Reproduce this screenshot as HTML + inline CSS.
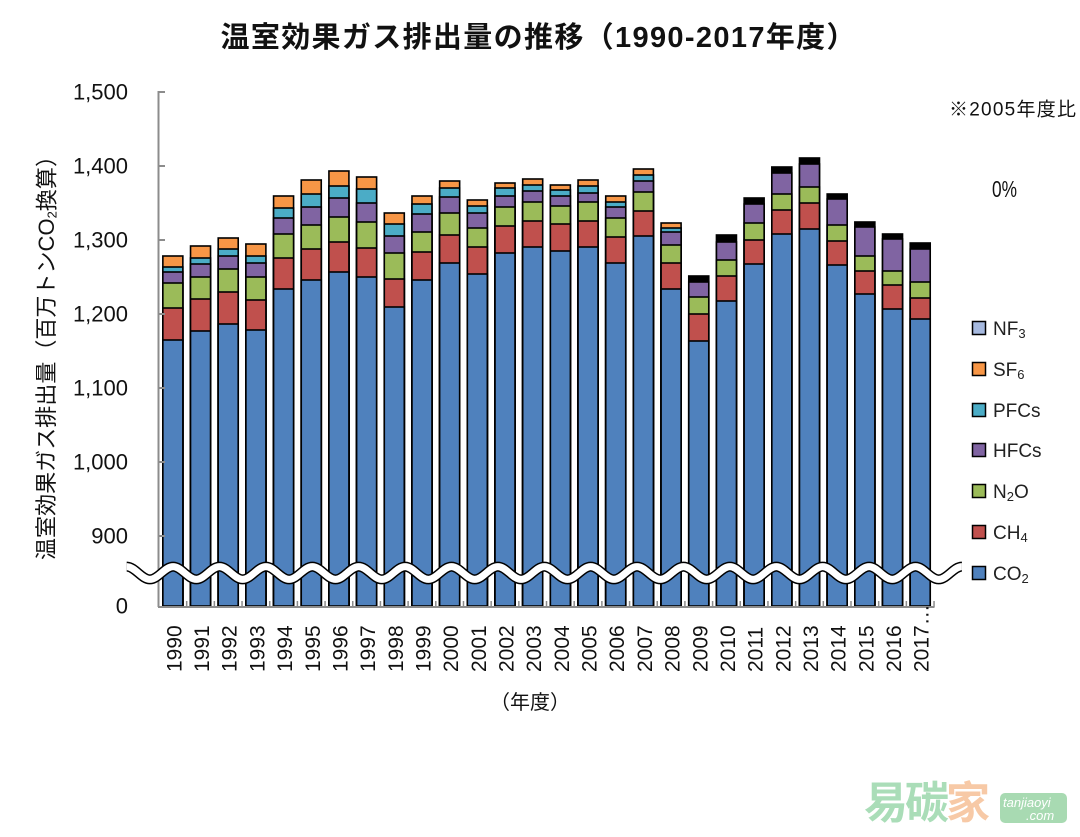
<!DOCTYPE html>
<html><head><meta charset="utf-8">
<style>html,body{margin:0;padding:0;background:#fff;width:1080px;height:837px;overflow:hidden}</style>
</head><body>
<svg width="1080" height="837" viewBox="0 0 1080 837" xmlns="http://www.w3.org/2000/svg" font-family="'Liberation Sans','Noto Sans CJK JP',sans-serif">
<rect width="1080" height="837" fill="#fff"/>

<!-- Title -->
<text x="538" y="38" text-anchor="middle" dominant-baseline="central" font-size="29" font-weight="bold" fill="#111" textLength="635" lengthAdjust="spacing">温室効果ガス排出量の推移（1990-2017年度）</text>

<!-- Bars -->
<g stroke="#000" stroke-width="1.6">
<g transform="translate(162.85,0)"><rect width="20" y="256" height="350" fill="#F79646"/><rect width="20" y="267" height="339" fill="#4BACC6"/><rect width="20" y="272" height="334" fill="#8064A2"/><rect width="20" y="283" height="323" fill="#9BBB59"/><rect width="20" y="308" height="298" fill="#C0504D"/><rect width="20" y="340" height="266" fill="#4F81BD"/></g>
<g transform="translate(190.53,0)"><rect width="20" y="246" height="360" fill="#F79646"/><rect width="20" y="258" height="348" fill="#4BACC6"/><rect width="20" y="264" height="342" fill="#8064A2"/><rect width="20" y="277" height="329" fill="#9BBB59"/><rect width="20" y="299" height="307" fill="#C0504D"/><rect width="20" y="331" height="275" fill="#4F81BD"/></g>
<g transform="translate(218.21,0)"><rect width="20" y="238" height="368" fill="#F79646"/><rect width="20" y="249" height="357" fill="#4BACC6"/><rect width="20" y="256" height="350" fill="#8064A2"/><rect width="20" y="269" height="337" fill="#9BBB59"/><rect width="20" y="292" height="314" fill="#C0504D"/><rect width="20" y="324" height="282" fill="#4F81BD"/></g>
<g transform="translate(245.89,0)"><rect width="20" y="244" height="362" fill="#F79646"/><rect width="20" y="256" height="350" fill="#4BACC6"/><rect width="20" y="263" height="343" fill="#8064A2"/><rect width="20" y="277" height="329" fill="#9BBB59"/><rect width="20" y="300" height="306" fill="#C0504D"/><rect width="20" y="330" height="276" fill="#4F81BD"/></g>
<g transform="translate(273.57,0)"><rect width="20" y="196" height="410" fill="#F79646"/><rect width="20" y="208" height="398" fill="#4BACC6"/><rect width="20" y="218" height="388" fill="#8064A2"/><rect width="20" y="234" height="372" fill="#9BBB59"/><rect width="20" y="258" height="348" fill="#C0504D"/><rect width="20" y="289" height="317" fill="#4F81BD"/></g>
<g transform="translate(301.25,0)"><rect width="20" y="180" height="426" fill="#F79646"/><rect width="20" y="194" height="412" fill="#4BACC6"/><rect width="20" y="207" height="399" fill="#8064A2"/><rect width="20" y="225" height="381" fill="#9BBB59"/><rect width="20" y="249" height="357" fill="#C0504D"/><rect width="20" y="280" height="326" fill="#4F81BD"/></g>
<g transform="translate(328.93,0)"><rect width="20" y="171" height="435" fill="#F79646"/><rect width="20" y="186" height="420" fill="#4BACC6"/><rect width="20" y="198" height="408" fill="#8064A2"/><rect width="20" y="217" height="389" fill="#9BBB59"/><rect width="20" y="242" height="364" fill="#C0504D"/><rect width="20" y="272" height="334" fill="#4F81BD"/></g>
<g transform="translate(356.61,0)"><rect width="20" y="177" height="429" fill="#F79646"/><rect width="20" y="189" height="417" fill="#4BACC6"/><rect width="20" y="203" height="403" fill="#8064A2"/><rect width="20" y="222" height="384" fill="#9BBB59"/><rect width="20" y="248" height="358" fill="#C0504D"/><rect width="20" y="277" height="329" fill="#4F81BD"/></g>
<g transform="translate(384.29,0)"><rect width="20" y="213" height="393" fill="#F79646"/><rect width="20" y="224" height="382" fill="#4BACC6"/><rect width="20" y="236" height="370" fill="#8064A2"/><rect width="20" y="253" height="353" fill="#9BBB59"/><rect width="20" y="279" height="327" fill="#C0504D"/><rect width="20" y="307" height="299" fill="#4F81BD"/></g>
<g transform="translate(411.97,0)"><rect width="20" y="196" height="410" fill="#F79646"/><rect width="20" y="204" height="402" fill="#4BACC6"/><rect width="20" y="214" height="392" fill="#8064A2"/><rect width="20" y="232" height="374" fill="#9BBB59"/><rect width="20" y="252" height="354" fill="#C0504D"/><rect width="20" y="280" height="326" fill="#4F81BD"/></g>
<g transform="translate(439.65,0)"><rect width="20" y="181" height="425" fill="#F79646"/><rect width="20" y="188" height="418" fill="#4BACC6"/><rect width="20" y="197" height="409" fill="#8064A2"/><rect width="20" y="213" height="393" fill="#9BBB59"/><rect width="20" y="235" height="371" fill="#C0504D"/><rect width="20" y="263" height="343" fill="#4F81BD"/></g>
<g transform="translate(467.33,0)"><rect width="20" y="200" height="406" fill="#F79646"/><rect width="20" y="206" height="400" fill="#4BACC6"/><rect width="20" y="213" height="393" fill="#8064A2"/><rect width="20" y="228" height="378" fill="#9BBB59"/><rect width="20" y="247" height="359" fill="#C0504D"/><rect width="20" y="274" height="332" fill="#4F81BD"/></g>
<g transform="translate(495.01,0)"><rect width="20" y="183" height="423" fill="#F79646"/><rect width="20" y="188" height="418" fill="#4BACC6"/><rect width="20" y="196" height="410" fill="#8064A2"/><rect width="20" y="207" height="399" fill="#9BBB59"/><rect width="20" y="226" height="380" fill="#C0504D"/><rect width="20" y="253" height="353" fill="#4F81BD"/></g>
<g transform="translate(522.69,0)"><rect width="20" y="179" height="427" fill="#F79646"/><rect width="20" y="185" height="421" fill="#4BACC6"/><rect width="20" y="191" height="415" fill="#8064A2"/><rect width="20" y="202" height="404" fill="#9BBB59"/><rect width="20" y="221" height="385" fill="#C0504D"/><rect width="20" y="247" height="359" fill="#4F81BD"/></g>
<g transform="translate(550.37,0)"><rect width="20" y="185" height="421" fill="#F79646"/><rect width="20" y="190" height="416" fill="#4BACC6"/><rect width="20" y="196" height="410" fill="#8064A2"/><rect width="20" y="206" height="400" fill="#9BBB59"/><rect width="20" y="224" height="382" fill="#C0504D"/><rect width="20" y="251" height="355" fill="#4F81BD"/></g>
<g transform="translate(578.05,0)"><rect width="20" y="180" height="426" fill="#F79646"/><rect width="20" y="186" height="420" fill="#4BACC6"/><rect width="20" y="193" height="413" fill="#8064A2"/><rect width="20" y="202" height="404" fill="#9BBB59"/><rect width="20" y="221" height="385" fill="#C0504D"/><rect width="20" y="247" height="359" fill="#4F81BD"/></g>
<g transform="translate(605.73,0)"><rect width="20" y="196" height="410" fill="#F79646"/><rect width="20" y="202" height="404" fill="#4BACC6"/><rect width="20" y="207" height="399" fill="#8064A2"/><rect width="20" y="218" height="388" fill="#9BBB59"/><rect width="20" y="237" height="369" fill="#C0504D"/><rect width="20" y="263" height="343" fill="#4F81BD"/></g>
<g transform="translate(633.41,0)"><rect width="20" y="169" height="437" fill="#F79646"/><rect width="20" y="175" height="431" fill="#4BACC6"/><rect width="20" y="181" height="425" fill="#8064A2"/><rect width="20" y="192" height="414" fill="#9BBB59"/><rect width="20" y="211" height="395" fill="#C0504D"/><rect width="20" y="236" height="370" fill="#4F81BD"/></g>
<g transform="translate(661.09,0)"><rect width="20" y="223" height="383" fill="#F79646"/><rect width="20" y="228" height="378" fill="#4BACC6"/><rect width="20" y="232" height="374" fill="#8064A2"/><rect width="20" y="245" height="361" fill="#9BBB59"/><rect width="20" y="263" height="343" fill="#C0504D"/><rect width="20" y="289" height="317" fill="#4F81BD"/></g>
<g transform="translate(688.77,0)"><rect width="20" y="276" height="330" fill="#000"/><rect width="20" y="282" height="324" fill="#8064A2"/><rect width="20" y="297" height="309" fill="#9BBB59"/><rect width="20" y="314" height="292" fill="#C0504D"/><rect width="20" y="341" height="265" fill="#4F81BD"/></g>
<g transform="translate(716.45,0)"><rect width="20" y="235" height="371" fill="#000"/><rect width="20" y="242" height="364" fill="#8064A2"/><rect width="20" y="260" height="346" fill="#9BBB59"/><rect width="20" y="276" height="330" fill="#C0504D"/><rect width="20" y="301" height="305" fill="#4F81BD"/></g>
<g transform="translate(744.13,0)"><rect width="20" y="198" height="408" fill="#000"/><rect width="20" y="204" height="402" fill="#8064A2"/><rect width="20" y="223" height="383" fill="#9BBB59"/><rect width="20" y="240" height="366" fill="#C0504D"/><rect width="20" y="264" height="342" fill="#4F81BD"/></g>
<g transform="translate(771.81,0)"><rect width="20" y="167" height="439" fill="#000"/><rect width="20" y="173" height="433" fill="#8064A2"/><rect width="20" y="194" height="412" fill="#9BBB59"/><rect width="20" y="210" height="396" fill="#C0504D"/><rect width="20" y="234" height="372" fill="#4F81BD"/></g>
<g transform="translate(799.49,0)"><rect width="20" y="158" height="448" fill="#000"/><rect width="20" y="164" height="442" fill="#8064A2"/><rect width="20" y="187" height="419" fill="#9BBB59"/><rect width="20" y="203" height="403" fill="#C0504D"/><rect width="20" y="229" height="377" fill="#4F81BD"/></g>
<g transform="translate(827.17,0)"><rect width="20" y="194" height="412" fill="#000"/><rect width="20" y="199" height="407" fill="#8064A2"/><rect width="20" y="225" height="381" fill="#9BBB59"/><rect width="20" y="241" height="365" fill="#C0504D"/><rect width="20" y="265" height="341" fill="#4F81BD"/></g>
<g transform="translate(854.85,0)"><rect width="20" y="222" height="384" fill="#000"/><rect width="20" y="227" height="379" fill="#8064A2"/><rect width="20" y="256" height="350" fill="#9BBB59"/><rect width="20" y="271" height="335" fill="#C0504D"/><rect width="20" y="294" height="312" fill="#4F81BD"/></g>
<g transform="translate(882.53,0)"><rect width="20" y="234" height="372" fill="#000"/><rect width="20" y="239" height="367" fill="#8064A2"/><rect width="20" y="271" height="335" fill="#9BBB59"/><rect width="20" y="285" height="321" fill="#C0504D"/><rect width="20" y="309" height="297" fill="#4F81BD"/></g>
<g transform="translate(910.21,0)"><rect width="20" y="243" height="363" fill="#000"/><rect width="20" y="249" height="357" fill="#8064A2"/><rect width="20" y="282" height="324" fill="#9BBB59"/><rect width="20" y="298" height="308" fill="#C0504D"/><rect width="20" y="319" height="287" fill="#4F81BD"/></g>
</g>

<!-- Axes -->
<g stroke="#8c8c8c" stroke-width="2" fill="none">
<path d="M158.5 91V607"/>
<path d="M158 607H934.5"/>
<path d="M158.5 92H165M158.5 166H165M158.5 240H165M158.5 314H165M158.5 388H165M158.5 462H165M158.5 536H165"/>
<path stroke-width="1.5" d="M186.68 601V607M214.36 601V607M242.04 601V607M269.72 601V607M297.4 601V607M325.08 601V607M352.76 601V607M380.44 601V607M408.12 601V607M435.8 601V607M463.48 601V607M491.16 601V607M518.84 601V607M546.52 601V607M574.2 601V607M601.88 601V607M629.56 601V607M657.24 601V607M684.92 601V607M712.6 601V607M740.28 601V607M767.96 601V607M795.64 601V607M823.32 601V607M851 601V607M878.68 601V607M906.36 601V607M934.04 601V607"/>
</g>

<!-- Axis break wave -->
<g fill="none" stroke-linecap="butt">
<path stroke="#000" stroke-width="10" d="M126.7,566.6 C135.05,566.6 141.55,579.4 149.9,579.4 S164.75,566.6 173.1,566.6 S187.95,579.4 196.3,579.4 S211.15,566.6 219.5,566.6 S234.35,579.4 242.7,579.4 S257.55,566.6 265.9,566.6 S280.75,579.4 289.1,579.4 S303.95,566.6 312.3,566.6 S327.15,579.4 335.5,579.4 S350.35,566.6 358.7,566.6 S373.55,579.4 381.9,579.4 S396.75,566.6 405.1,566.6 S419.95,579.4 428.3,579.4 S443.15,566.6 451.5,566.6 S466.35,579.4 474.7,579.4 S489.55,566.6 497.9,566.6 S512.75,579.4 521.1,579.4 S535.95,566.6 544.3,566.6 S559.15,579.4 567.5,579.4 S582.35,566.6 590.7,566.6 S605.55,579.4 613.9,579.4 S628.75,566.6 637.1,566.6 S651.95,579.4 660.3,579.4 S675.15,566.6 683.5,566.6 S698.35,579.4 706.7,579.4 S721.55,566.6 729.9,566.6 S744.75,579.4 753.1,579.4 S767.95,566.6 776.3,566.6 S791.15,579.4 799.5,579.4 S814.35,566.6 822.7,566.6 S837.55,579.4 845.9,579.4 S860.75,566.6 869.1,566.6 S883.95,579.4 892.3,579.4 S907.15,566.6 915.5,566.6 S930.35,579.4 938.7,579.4 S953.55,566.6 961.9,566.6"/>
<path stroke="#fff" stroke-width="7" d="M126.7,566.6 C135.05,566.6 141.55,579.4 149.9,579.4 S164.75,566.6 173.1,566.6 S187.95,579.4 196.3,579.4 S211.15,566.6 219.5,566.6 S234.35,579.4 242.7,579.4 S257.55,566.6 265.9,566.6 S280.75,579.4 289.1,579.4 S303.95,566.6 312.3,566.6 S327.15,579.4 335.5,579.4 S350.35,566.6 358.7,566.6 S373.55,579.4 381.9,579.4 S396.75,566.6 405.1,566.6 S419.95,579.4 428.3,579.4 S443.15,566.6 451.5,566.6 S466.35,579.4 474.7,579.4 S489.55,566.6 497.9,566.6 S512.75,579.4 521.1,579.4 S535.95,566.6 544.3,566.6 S559.15,579.4 567.5,579.4 S582.35,566.6 590.7,566.6 S605.55,579.4 613.9,579.4 S628.75,566.6 637.1,566.6 S651.95,579.4 660.3,579.4 S675.15,566.6 683.5,566.6 S698.35,579.4 706.7,579.4 S721.55,566.6 729.9,566.6 S744.75,579.4 753.1,579.4 S767.95,566.6 776.3,566.6 S791.15,579.4 799.5,579.4 S814.35,566.6 822.7,566.6 S837.55,579.4 845.9,579.4 S860.75,566.6 869.1,566.6 S883.95,579.4 892.3,579.4 S907.15,566.6 915.5,566.6 S930.35,579.4 938.7,579.4 S953.55,566.6 961.9,566.6"/>
</g>

<!-- Y tick labels -->
<g font-size="22" fill="#111" text-anchor="end" dominant-baseline="central">
<text x="128" y="92">1,500</text>
<text x="128" y="166">1,400</text>
<text x="128" y="240">1,300</text>
<text x="128" y="314">1,200</text>
<text x="128" y="388">1,100</text>
<text x="128" y="462">1,000</text>
<text x="128" y="536">900</text>
<text x="128" y="606">0</text>
</g>

<!-- Y axis title -->
<text transform="translate(46.5,352.5) rotate(-90)" text-anchor="middle" dominant-baseline="central" font-size="22" fill="#111" textLength="415" lengthAdjust="spacing">温室効果ガス排出量（百万トンCO<tspan font-size="13" dy="5">2</tspan><tspan dy="-5">換算）</tspan></text>

<!-- X tick labels -->
<g font-size="21" fill="#111" dominant-baseline="central">
<text transform="translate(174.85,672) rotate(-90)">1990</text>
<text transform="translate(202.53,672) rotate(-90)">1991</text>
<text transform="translate(230.21,672) rotate(-90)">1992</text>
<text transform="translate(257.89,672) rotate(-90)">1993</text>
<text transform="translate(285.57,672) rotate(-90)">1994</text>
<text transform="translate(313.25,672) rotate(-90)">1995</text>
<text transform="translate(340.93,672) rotate(-90)">1996</text>
<text transform="translate(368.61,672) rotate(-90)">1997</text>
<text transform="translate(396.29,672) rotate(-90)">1998</text>
<text transform="translate(423.97,672) rotate(-90)">1999</text>
<text transform="translate(451.65,672) rotate(-90)">2000</text>
<text transform="translate(479.33,672) rotate(-90)">2001</text>
<text transform="translate(507.01,672) rotate(-90)">2002</text>
<text transform="translate(534.69,672) rotate(-90)">2003</text>
<text transform="translate(562.37,672) rotate(-90)">2004</text>
<text transform="translate(590.05,672) rotate(-90)">2005</text>
<text transform="translate(617.73,672) rotate(-90)">2006</text>
<text transform="translate(645.41,672) rotate(-90)">2007</text>
<text transform="translate(673.09,672) rotate(-90)">2008</text>
<text transform="translate(700.77,672) rotate(-90)">2009</text>
<text transform="translate(728.45,672) rotate(-90)">2010</text>
<text transform="translate(756.13,672) rotate(-90)">2011</text>
<text transform="translate(783.81,672) rotate(-90)">2012</text>
<text transform="translate(811.49,672) rotate(-90)">2013</text>
<text transform="translate(839.17,672) rotate(-90)">2014</text>
<text transform="translate(866.85,672) rotate(-90)">2015</text>
<text transform="translate(894.53,672) rotate(-90)">2016</text>
<text transform="translate(922.21,672) rotate(-90)">2017…</text>
</g>

<!-- X axis title -->
<text x="530" y="703" text-anchor="middle" dominant-baseline="central" font-size="20" fill="#111" textLength="80" lengthAdjust="spacing">（年度）</text>

<!-- Annotations -->
<text x="949" y="110" dominant-baseline="central" font-size="19" fill="#111" textLength="127" lengthAdjust="spacing">※2005年度比</text>
<text x="992" y="189" dominant-baseline="central" font-size="23" fill="#111" textLength="25" lengthAdjust="spacingAndGlyphs">0%</text>

<!-- Legend -->
<g stroke="#000" stroke-width="1.5">
<rect x="972.5" y="321.5" width="13" height="13" fill="#A6B9DF"/>
<rect x="972.5" y="362.5" width="13" height="13" fill="#F79646"/>
<rect x="972.5" y="403.5" width="13" height="13" fill="#4BACC6"/>
<rect x="972.5" y="443.5" width="13" height="13" fill="#8064A2"/>
<rect x="972.5" y="484.5" width="13" height="13" fill="#9BBB59"/>
<rect x="972.5" y="525.5" width="13" height="13" fill="#C0504D"/>
<rect x="972.5" y="566.5" width="13" height="13" fill="#4F81BD"/>
</g>
<g font-size="19" fill="#222">
<text x="993" y="335">NF<tspan font-size="13" dy="3">3</tspan></text>
<text x="993" y="376">SF<tspan font-size="13" dy="3">6</tspan></text>
<text x="993" y="417">PFCs</text>
<text x="993" y="457">HFCs</text>
<text x="993" y="498">N<tspan font-size="13" dy="3">2</tspan><tspan dy="-3">O</tspan></text>
<text x="993" y="539">CH<tspan font-size="13" dy="3">4</tspan></text>
<text x="993" y="580">CO<tspan font-size="13" dy="3">2</tspan></text>
</g>

<!-- Watermark -->
<g font-family="'Liberation Sans','Noto Sans CJK SC',sans-serif">
<text x="864" y="818" font-size="44" font-weight="bold" textLength="126" lengthAdjust="spacing"><tspan fill="#AADDB8">易碳</tspan><tspan fill="#F7C9A6">家</tspan></text>
<rect x="1000" y="793" width="67" height="30" rx="5" fill="#A8DAB2"/>
<text x="1003" y="807" font-size="13" font-style="italic" fill="#fff">tanjiaoyi</text>
<text x="1026" y="820" font-size="13" font-style="italic" fill="#fff">.com</text>
</g>
</svg>
</body></html>
